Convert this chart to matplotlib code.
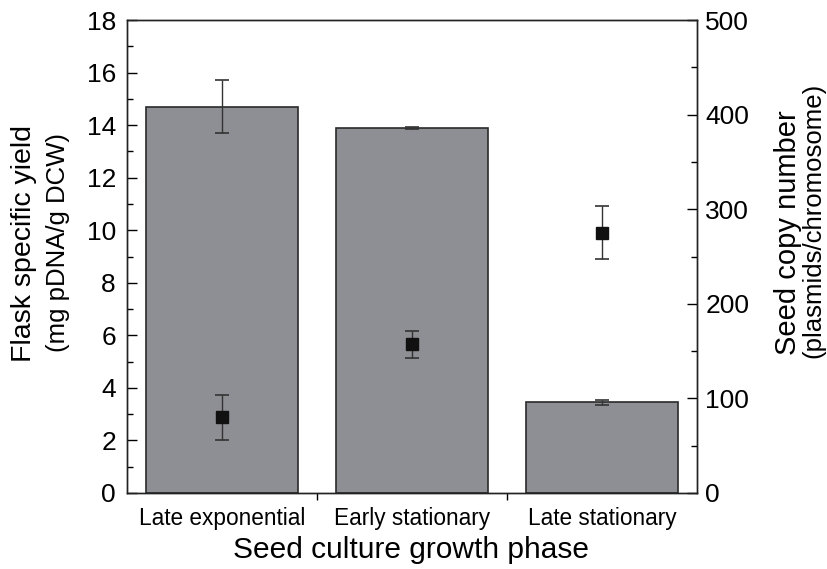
import matplotlib
matplotlib.use("Agg")
import matplotlib.pyplot as plt
from matplotlib.ticker import MultipleLocator, FixedLocator

plt.rcParams['font.family'] = ['Liberation Sans', 'DejaVu Sans']

categories = ["Late exponential", "Early stationary", "Late stationary"]
yield_vals = [14.7, 13.9, 3.45]
yield_err = [1.0, 0.03, 0.1]
copy_vals = [80, 157, 275]
copy_err = [24, 14, 28]

fig = plt.figure(figsize=(8.27, 5.69), dpi=100)
ax = fig.add_axes([127/827, 1-493/569, 570/827, 473/569])
x = list(range(len(categories)))
ax.bar(x, yield_vals, width=0.8, color='#8e8f94', edgecolor='#2a2a2a', linewidth=1.2, zorder=2)
ax.errorbar(x, yield_vals, yerr=yield_err, fmt='none', ecolor='#333333', elinewidth=1.0,
            capsize=5, capthick=1.2, zorder=3)
ax.set_xlim(-0.5, 2.5)
ax.set_ylim(0, 18)
ax.yaxis.set_major_locator(MultipleLocator(2))
ax.yaxis.set_minor_locator(MultipleLocator(1))
ax.set_xticks(x)
ax.set_xticklabels(categories, fontsize=16.3)
ax.xaxis.set_minor_locator(FixedLocator([0.5, 1.5]))
ax.tick_params(axis='x', which='major', length=0, pad=10)
ax.tick_params(axis='x', which='minor', length=5, direction='out', width=1.0)
ax.tick_params(axis='y', which='major', length=7, direction='in', width=1.0, labelsize=19, pad=8)
ax.tick_params(axis='y', which='minor', length=4, direction='in', width=1.0)
for s in ax.spines.values():
    s.set_linewidth(1.0)
    s.set_color('#222222')

ax2 = ax.twinx()
ax2.set_ylim(0, 500)
ax2.errorbar(x, copy_vals, yerr=copy_err, fmt='s', color='#111111', markersize=8,
             ecolor='#333333', elinewidth=1.0, capsize=5, capthick=1.2, zorder=4)
ax2.yaxis.set_major_locator(MultipleLocator(100))
ax2.yaxis.set_minor_locator(MultipleLocator(50))
ax2.tick_params(axis='y', which='major', length=7, direction='in', width=1.0, labelsize=19, pad=6)
ax2.tick_params(axis='y', which='minor', length=4, direction='in', width=1.0)
for s in ax2.spines.values():
    s.set_linewidth(1.0)
    s.set_color('#222222')

fig.text(24/827, 1-243/569, "Flask specific yield", rotation=90, ha='center', va='center', fontsize=20.5)
fig.text(58/827, 1-243/569, "(mg pDNA/g DCW)", rotation=90, ha='center', va='center', fontsize=18.5)
fig.text(788/827, 1-233/569, "Seed copy number", rotation=90, ha='center', va='center', fontsize=21)
fig.text(813/827, 1-220/569, "(plasmids/chromosome)", rotation=90, ha='center', va='center', fontsize=18.5)
fig.text(411/827, 1-550/569, "Seed culture growth phase", ha='center', va='center', fontsize=21.5)

fig.savefig("out.png", dpi=100)
